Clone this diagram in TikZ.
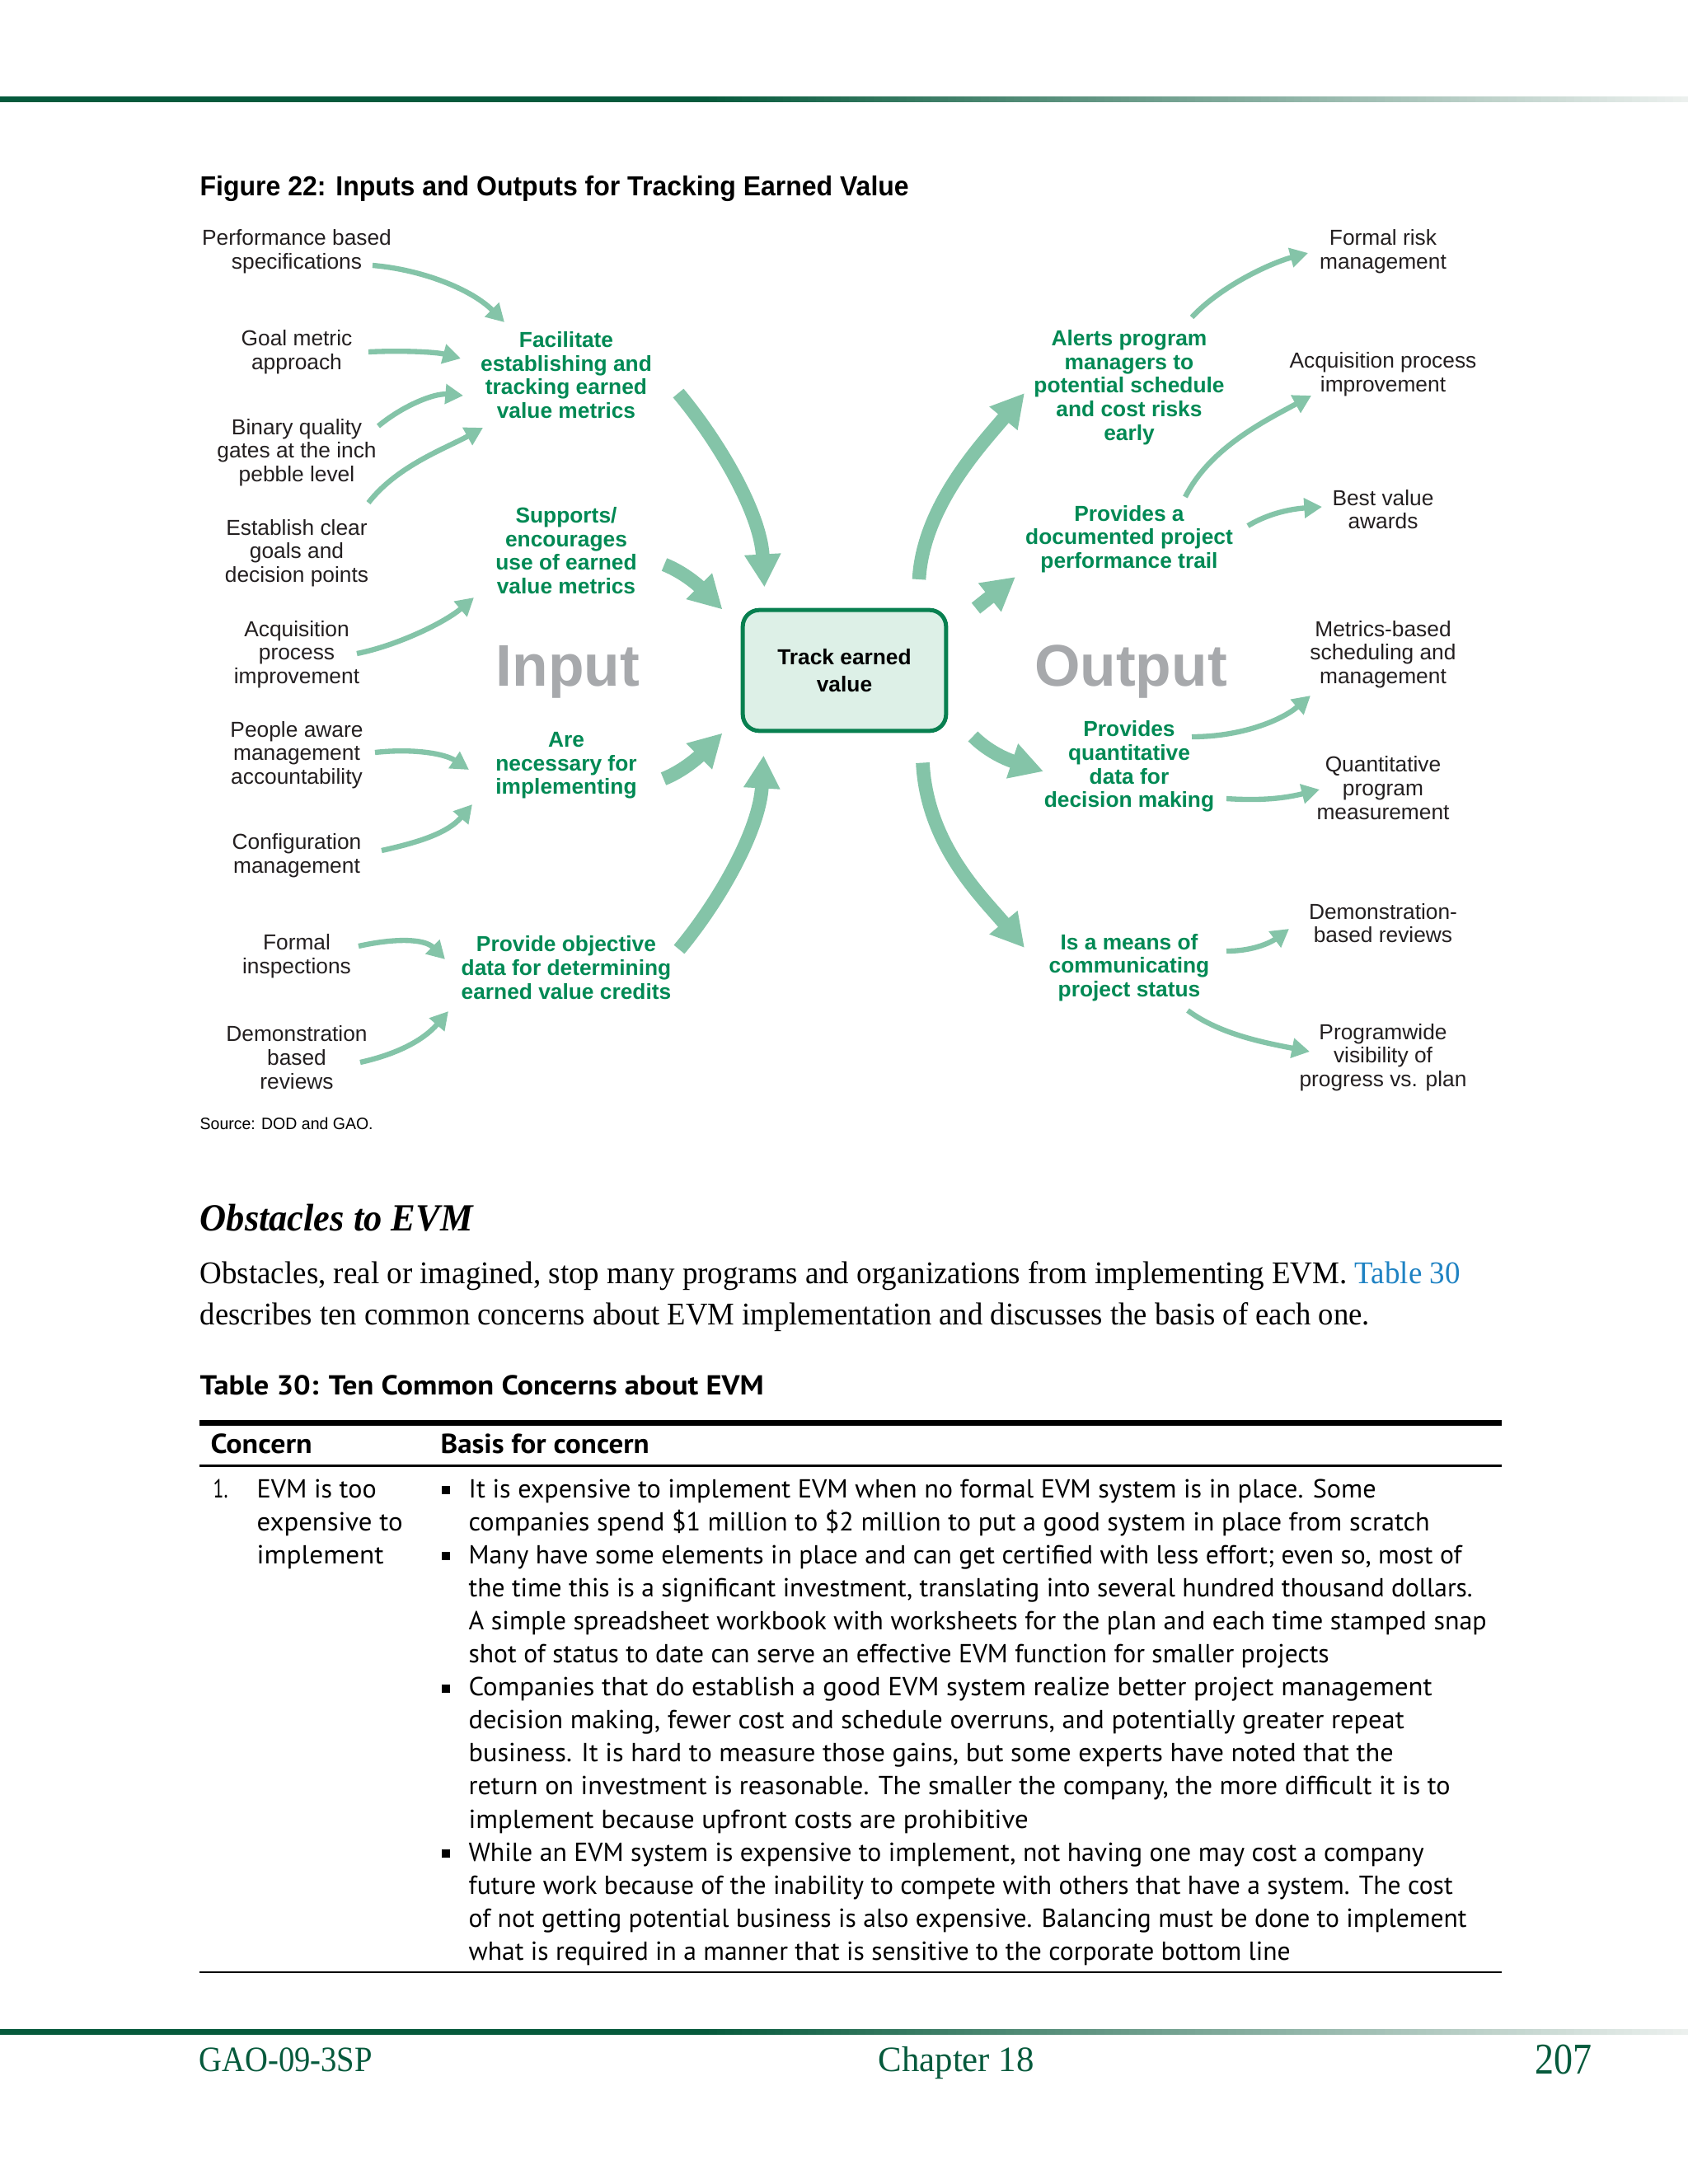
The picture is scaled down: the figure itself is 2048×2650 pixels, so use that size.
\documentclass[tikz,border=0pt]{standalone}
\usepackage{fontspec}
\usepackage{graphicx}
\setmainfont{Liberation Serif}
\newfontfamily\arialf{Liberation Sans}
\newfontfamily\myr{PT Sans}
\usetikzlibrary{arrows.meta,calc}
\newlength{\px}\setlength{\px}{0.3pt}
\newcommand{\fitw}[2]{\resizebox{#1\px}{\height}{#2}}
\definecolor{agreen}{RGB}{132,196,168}
\definecolor{tgreen}{RGB}{0,137,84}
\definecolor{boxfill}{RGB}{221,240,231}
\definecolor{boxdraw}{RGB}{8,128,80}
\definecolor{bigray}{RGB}{167,169,172}
\definecolor{dkgreen}{RGB}{6,90,60}
\definecolor{fadegray}{RGB}{236,240,238}
\definecolor{linkblue}{RGB}{30,130,195}
\definecolor{txtblack}{RGB}{35,31,32}
\tikzset{
  lbl/.style={align=center, font=\arialf\fontsize{7.9}{8.6}\selectfont, text=txtblack, inner sep=0pt},
  glbl/.style={align=center, font=\arialf\bfseries\fontsize{7.9}{8.6}\selectfont, text=tgreen, inner sep=0pt},
  big/.style={font=\arialf\bfseries\fontsize{21.4}{24}\selectfont, text=bigray, inner sep=0pt, anchor=base},
  tarr/.style={draw=agreen, line width=1.9pt, -{Triangle[length=6.5pt,width=7pt]}},
  barr/.style={draw=agreen, line width=5pt, -{Triangle[length=12pt,width=12.5pt]}},
  txt/.style={inner sep=0pt, anchor=base west},
  body/.style={txt, font=\myr\fontsize{9.5}{11}\selectfont},
  bul/.style={fill=black}
}
\begin{document}
\begin{tikzpicture}[x=0.3pt,y=-0.3pt]
\useasboundingbox (0,0) rectangle (2048,2650);
\fill[white] (0,0) rectangle (2048,2650);
% header / footer bars (solid, then fading to the right)
\fill[dkgreen] (0,117) rectangle (851,124);
\fill[dkgreen] (0,2462) rectangle (851,2469);
\foreach \i in {0,...,119}{
  \pgfmathsetmacro\pc{100-\i*0.8403}
  \fill[dkgreen!\pc!fadegray] ({850+\i*10},117) rectangle ({861+\i*10},124);
  \fill[dkgreen!\pc!fadegray] ({850+\i*10},2462) rectangle ({861+\i*10},2469);
}

% figure title
\node[txt, font=\arialf\bfseries\fontsize{10}{12}\selectfont] (ftitle) at (242,237) {\fitw{860}{Figure 22: Inputs and Outputs for Tracking Earned Value}};

% left inputs
\node[lbl] (perf) at (360,305) {Performance based\\specifications};
\node[lbl] (goal) at (360,427) {Goal metric\\approach};
\node[lbl] (binary) at (360,549) {Binary quality\\gates at the inch\\pebble level};
\node[lbl] (establish) at (360,671) {Establish clear\\goals and\\decision points};
\node[lbl] (acq) at (360,794) {Acquisition\\process\\improvement};
\node[lbl] (people) at (360,916) {People aware\\management\\accountability};
\node[lbl] (config) at (360,1038) {Configuration\\management};
\node[lbl] (formal) at (360,1160) {Formal\\inspections};
\node[lbl] (demo) at (360,1283) {Demonstration\\based\\reviews};

% green input statements
\node[glbl] (fac) at (687,455) {Facilitate\\establishing and\\tracking earned\\value metrics};
\node[glbl] (sup) at (687,668) {Supports/\\encourages\\use of earned\\value metrics};
\node[glbl] (are) at (687,929) {Are\\necessary for\\implementing};
\node[glbl] (prov) at (687,1174) {Provide objective\\data for determining\\earned value credits};
\node[big] (input) at (689,832) {Input};

% center
\node[draw=boxdraw, line width=1.5pt, fill=boxfill, rounded corners=6pt, minimum width=74pt, minimum height=44pt, align=center, inner sep=0pt, font=\arialf\bfseries\fontsize{7.9}{9.75}\selectfont, text=black] (track) at (1024.5,813.5) {Track earned\\value};

% green output statements
\node[glbl] (alerts) at (1370,470) {Alerts program\\managers to\\potential schedule\\and cost risks\\early};
\node[glbl] (doc) at (1370,654) {Provides a\\documented project\\performance trail};
\node[glbl] (quant) at (1370,930) {Provides\\quantitative\\data for\\decision making};
\node[glbl] (means) at (1370,1174) {Is a means of\\communicating\\project status};
\node[big] (output) at (1372,832) {Output};

% right outputs
\node[lbl] (risk) at (1678,305) {Formal risk\\management};
\node[lbl] (acqp) at (1678,454) {Acquisition process\\improvement};
\node[lbl] (best) at (1678,618) {Best value\\awards};
\node[lbl] (metrics) at (1678,794) {Metrics-based\\scheduling and\\management};
\node[lbl] (qprog) at (1678,956) {Quantitative\\program\\measurement};
\node[lbl] (demob) at (1678,1120) {Demonstration-\\based reviews};
\node[lbl] (prog) at (1678,1283) {Programwide\\visibility of\\progress vs. plan};

% thin input arrows
\draw[tarr] ([shift={(92,17)}]perf.center) .. controls +(60,5) and +(-40,-40) .. ([shift={(-75,-64)}]fac.center);
\draw[tarr] ([shift={(87,0)}]goal.center) .. controls +(40,-2) and +(-30,-8) .. ([shift={(-128,-20)}]fac.center);
\draw[tarr] ([shift={(99,-32)}]binary.center) .. controls +(30,-25) and +(-35,-3) .. ([shift={(-125,25)}]fac.center);
\draw[tarr] ([shift={(87,-61)}]establish.center) .. controls +(35,-45) and +(-45,25) .. ([shift={(-101,64)}]fac.center);
\draw[tarr] ([shift={(73,-1)}]acq.center) .. controls +(50,-10) and +(-35,30) .. ([shift={(-112,57)}]sup.center);
\draw[tarr] ([shift={(95,-3)}]people.center) .. controls +(45,-5) and +(-30,-20) .. ([shift={(-118,5)}]are.center);
\draw[tarr] ([shift={(103,-6)}]config.center) .. controls +(45,-10) and +(-30,35) .. ([shift={(-114,47)}]are.center);
\draw[tarr] ([shift={(75,-12)}]formal.center) .. controls +(45,-10) and +(-25,-25) .. ([shift={(-147,-10)}]prov.center);
\draw[tarr] ([shift={(77,6)}]demo.center) .. controls +(45,-10) and +(-30,35) .. ([shift={(-143,53)}]prov.center);

% big input arrows
\draw[barr] ([shift={(136,22)}]fac.center) .. controls +(50,60) and +(-5,-90) .. ([shift={(-97,-101)}]track.center);
\draw[barr] ([shift={(119,17)}]sup.center) .. controls +(30,12) and +(-20,-20) .. ([shift={(-148,-74)}]track.center);
\draw[barr] ([shift={(118,16)}]are.center) .. controls +(30,-12) and +(-20,20) .. ([shift={(-148,76)}]track.center);
\draw[barr] ([shift={(137,-22)}]prov.center) .. controls +(50,-60) and +(-5,90) .. ([shift={(-98,103)}]track.center);

% big output arrows
\draw[barr] ([shift={(90.5,-110.5)}]track.center) .. controls +(5,-90) and +(-50,60) .. ([shift={(-127,7)}]alerts.center);
\draw[barr] ([shift={(159.5,-75.5)}]track.center) .. controls +(15,-12) and +(-15,12) .. ([shift={(-138,46)}]doc.center);
\draw[barr] ([shift={(156,80)}]track.center) .. controls +(25,25) and +(-30,-10) .. ([shift={(-104,6)}]quant.center);
\draw[barr] ([shift={(95,112)}]track.center) .. controls +(5,100) and +(-50,-60) .. ([shift={(-127,-24)}]means.center);

% thin output arrows
\draw[tarr] ([shift={(76,-85)}]alerts.center) .. controls +(35,-38) and +(-45,12) .. ([shift={(-91,2)}]risk.center);
\draw[tarr] ([shift={(68,-51)}]doc.center) .. controls +(30,-60) and +(-55,30) .. ([shift={(-87,26)}]acqp.center);
\draw[tarr] ([shift={(144,-16)}]doc.center) .. controls +(30,-18) and +(-30,2) .. ([shift={(-74,-3)}]best.center);
\draw[tarr] ([shift={(76,-36)}]quant.center) .. controls +(60,0) and +(-35,30) .. ([shift={(-88,50)}]metrics.center);
\draw[tarr] ([shift={(118,39)}]quant.center) .. controls +(45,3) and +(-40,10) .. ([shift={(-77,2)}]qprog.center);
\draw[tarr] ([shift={(118,-20)}]means.center) .. controls +(35,0) and +(-20,15) .. ([shift={(-114,7)}]demob.center);
\draw[tarr] ([shift={(71,52)}]means.center) .. controls +(40,30) and +(-50,-10) .. ([shift={(-89,-7)}]prog.center);

% source
\node[txt, font=\arialf\fontsize{6}{7}\selectfont] (source) at (242,1370.5) {\fitw{210}{Source: DOD and GAO.}};

% section heading and paragraph
\node[txt, font=\bfseries\itshape\fontsize{14}{16}\selectfont] (heading) at (242,1493) {\fitw{331}{Obstacles to EVM}};
\node[txt, font=\fontsize{11.5}{14}\selectfont] (para1) at (242,1557) {\fitw{1529}{Obstacles, real or imagined, stop many programs and organizations from implementing EVM. \textcolor{linkblue}{Table 30}}};
\node[txt, font=\fontsize{11.5}{14}\selectfont] (para2) at (242,1607) {\fitw{1419}{describes ten common concerns about EVM implementation and discusses the basis of each one.}};

% table
\node[txt, font=\myr\bfseries\fontsize{10}{12}\selectfont] (ttitle) at (242,1692.5) {\fitw{684}{Table 30: Ten Common Concerns about EVM}};
\draw[line width=7\px] (242,1726.5) -- (1822,1726.5);
\node[txt, font=\myr\bfseries\fontsize{10}{12}\selectfont] (hcon) at (255,1763) {\fitw{123}{Concern}};
\node[txt, font=\myr\bfseries\fontsize{10}{12}\selectfont] (hbas) at (534,1763) {\fitw{253}{Basis for concern}};
\draw[line width=3.5\px] (242,1778.5) -- (1822,1778.5);

\node[body] (num1) at (258,1817) {\fitw{18}{1.}};
\node[body] (c1) at (311,1817) {\fitw{145}{EVM is too}};
\node[body] (c2) at (311,1857.1) {\fitw{177}{expensive to}};
\node[body] (c3) at (311,1897.2) {\fitw{154}{implement}};

\fill[bul] (536,1803) rectangle (546,1813);
\fill[bul] (536,1883.2) rectangle (546,1893.2);
\fill[bul] (536,2043.6) rectangle (546,2053.6);
\fill[bul] (536,2244.1) rectangle (546,2254.1);

\node[body] (t1) at (568,1817) {\fitw{1101}{It is expensive to implement EVM when no formal EVM system is in place. Some}};
\node[body] (t2) at (568,1857.1) {\fitw{1166}{companies spend \$1 million to \$2 million to put a good system in place from scratch}};
\node[body] (t3) at (568,1897.2) {\fitw{1205}{Many have some elements in place and can get certified with less effort; even so, most of}};
\node[body] (t4) at (568,1937.3) {\fitw{1218}{the time this is a significant investment, translating into several hundred thousand dollars.}};
\node[body] (t5) at (568,1977.4) {\fitw{1235}{A simple spreadsheet workbook with worksheets for the plan and each time stamped snap}};
\node[body] (t6) at (568,2017.5) {\fitw{1044}{shot of status to date can serve an effective EVM function for smaller projects}};
\node[body] (t7) at (568,2057.6) {\fitw{1169}{Companies that do establish a good EVM system realize better project management}};
\node[body] (t8) at (568,2097.7) {\fitw{1135}{decision making, fewer cost and schedule overruns, and potentially greater repeat}};
\node[body] (t9) at (568,2137.8) {\fitw{1122}{business. It is hard to measure those gains, but some experts have noted that the}};
\node[body] (t10) at (568,2177.9) {\fitw{1191}{return on investment is reasonable. The smaller the company, the more difficult it is to}};
\node[body] (t11) at (568,2218) {\fitw{679}{implement because upfront costs are prohibitive}};
\node[body] (t12) at (568,2258.1) {\fitw{1159}{While an EVM system is expensive to implement, not having one may cost a company}};
\node[body] (t13) at (568,2298.2) {\fitw{1194}{future work because of the inability to compete with others that have a system. The cost}};
\node[body] (t14) at (568,2338.3) {\fitw{1211}{of not getting potential business is also expensive. Balancing must be done to implement}};
\node[body] (t15) at (568,2378.4) {\fitw{997}{what is required in a manner that is sensitive to the corporate bottom line}};
\draw[line width=2.5\px] (242,2393) -- (1822,2393);

% footer
\node[txt, text=dkgreen, font=\fontsize{13}{15}\selectfont] (fgao) at (241,2513) {\fitw{210}{GAO-09-3SP}};
\node[txt, text=dkgreen, font=\fontsize{13}{15}\selectfont] (fchap) at (1065,2513) {\fitw{189}{Chapter 18}};
\node[txt, text=dkgreen, font=\fontsize{16}{18}\selectfont] (fpage) at (1862,2516) {\fitw{69}{207}};
\end{tikzpicture}
\end{document}
